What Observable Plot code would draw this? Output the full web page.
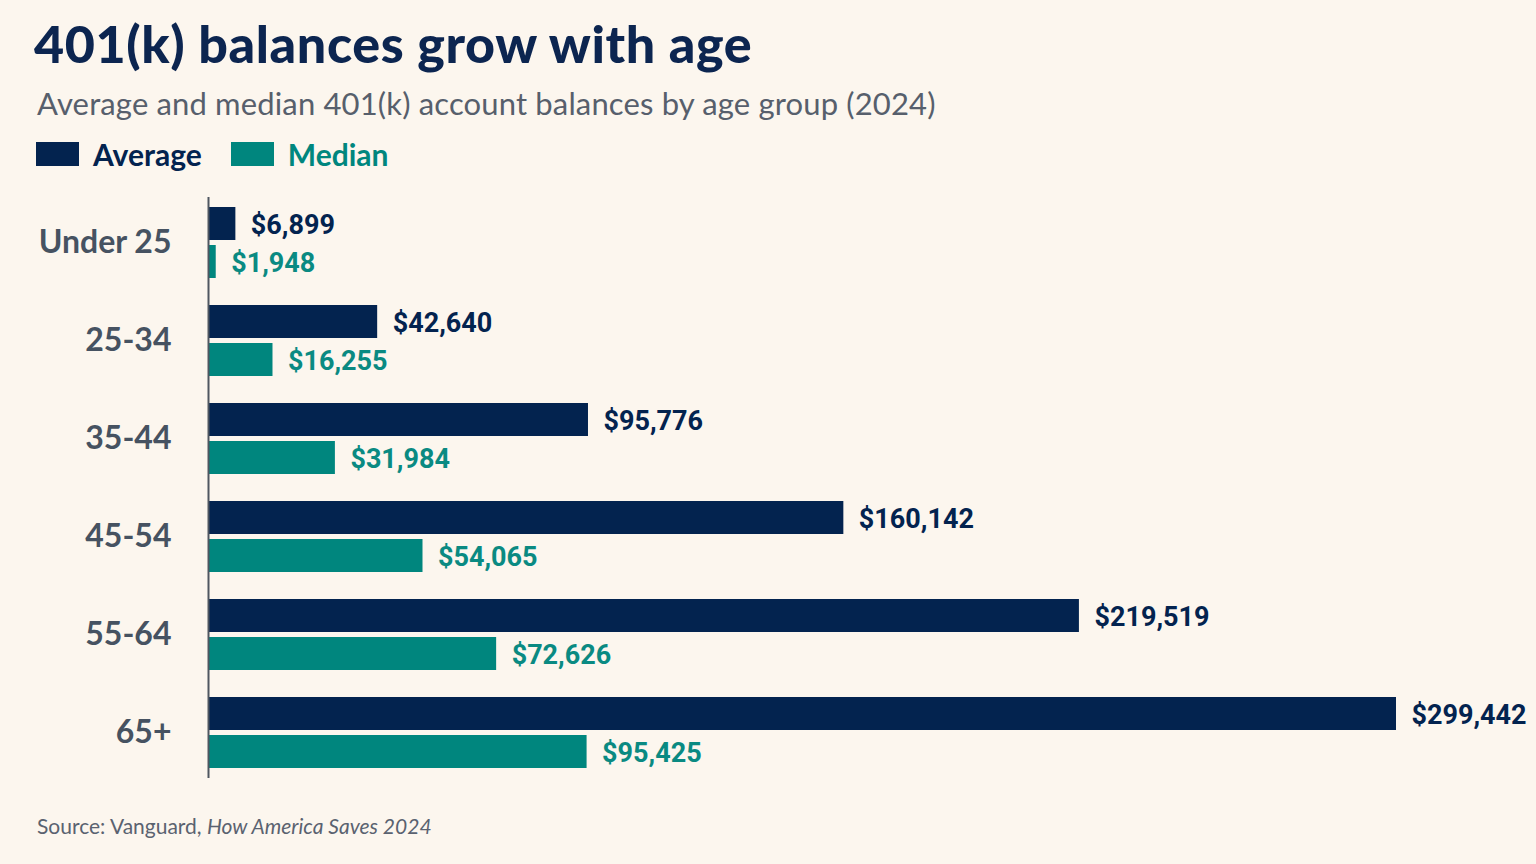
<!DOCTYPE html>
<html>
<head>
<meta charset="utf-8">
<script src="https://cdn.jsdelivr.net/npm/d3@7"></script>
<script src="https://cdn.jsdelivr.net/npm/@observablehq/plot@0.6"></script>
<style>
  html, body { margin: 0; padding: 0; background: #fcf6ee; }
  body { width: 1536px; height: 864px; position: relative; overflow: hidden; font-family: Lato, "Noto Sans", sans-serif; }
  #title { position: absolute; left: 34px; top: 17px; font-size: 52px; line-height: 52px; font-weight: 900; color: #0c2550; letter-spacing: 0.6px; white-space: nowrap; }
  #subtitle { position: absolute; left: 37px; top: 88px; font-size: 31px; line-height: 31px; color: #575f6c; letter-spacing: 0.15px; white-space: nowrap; }
  #legend { position: absolute; left: 36px; top: 139px; display: flex; align-items: center; font-size: 30px; line-height: 30px; font-weight: 700; }
  .sw { width: 43px; height: 24px; display: inline-block; margin-right: 14px; }
  .item { display: flex; align-items: center; margin-right: 29px; }
  #chart { position: absolute; left: 0; top: 180px; }
  #source { position: absolute; left: 37px; top: 815px; font-size: 21px; line-height: 21px; color: #5a6270; white-space: nowrap; }
</style>
</head>
<body>
<div id="title">401(k) balances grow with age</div>
<div id="subtitle">Average and median 401(k) account balances by age group (2024)</div>
<div id="legend"></div>
<div id="chart"></div>
<div id="source">Source: Vanguard, <i>How America Saves 2024</i></div>
<script>
// Vanguard, How America Saves 2024 — 401(k) balances by age
const ages = ["Under 25", "25-34", "35-44", "45-54", "55-64", "65+"];
const average = [6899, 42640, 95776, 160142, 219519, 299442];
const median = [1948, 16255, 31984, 54065, 72626, 95425];
const seriesNames = ["Average", "Median"];
const seriesColors = ["#03234f", "#00867e"];

const rows = ages.flatMap((age, i) => [
  {age, series: "Average", value: average[i]},
  {age, series: "Median", value: median[i]}
]);
const avgRows = rows.filter(d => d.series === "Average");
const medRows = rows.filter(d => d.series === "Median");
const fmt = d => "$" + d3.format(",")(d);

// legend
const legend = document.getElementById("legend");
seriesNames.forEach((name, i) => {
  const item = document.createElement("div");
  item.className = "item";
  item.innerHTML = `<span class="sw" style="background:${seriesColors[i]}"></span><span style="color:${seriesColors[i]}">${name}</span>`;
  legend.appendChild(item);
});

const labelFont = {fontFamily: "Roboto, sans-serif", fontSize: 27, fontWeight: 700};

const chart = Plot.plot({
  width: 1536,
  height: 620,
  marginTop: 11,
  marginBottom: 16,
  marginLeft: 208,
  marginRight: 140,
  style: {background: "transparent", fontFamily: "Lato, sans-serif"},
  x: {domain: [0, d3.max(average)], axis: null},
  y: {domain: ages, paddingInner: 0.28, paddingOuter: 0.14, label: null},
  marks: [
    Plot.axisY({tickSize: 0, tickPadding: 37, fontSize: 32, fontWeight: 700, color: "#465261"}),
    Plot.barX(avgRows, {x: "value", y: "age", fill: seriesColors[0], insetBottom: 38}),
    Plot.barX(medRows, {x: "value", y: "age", fill: seriesColors[1], insetTop: 38}),
    Plot.text(avgRows, {x: "value", y: "age", text: d => fmt(d.value), dx: 15, dy: -18, textAnchor: "start", lineAnchor: "middle", fill: seriesColors[0], ...labelFont}),
    Plot.text(medRows, {x: "value", y: "age", text: d => fmt(d.value), dx: 15, dy: 20, textAnchor: "start", lineAnchor: "middle", fill: "#0a8a82", ...labelFont}),
    Plot.ruleX([0], {stroke: "#4f5660", strokeWidth: 2, insetTop: 6, insetBottom: 6})
  ]
});
document.getElementById("chart").appendChild(chart);
</script>
</body>
</html>
